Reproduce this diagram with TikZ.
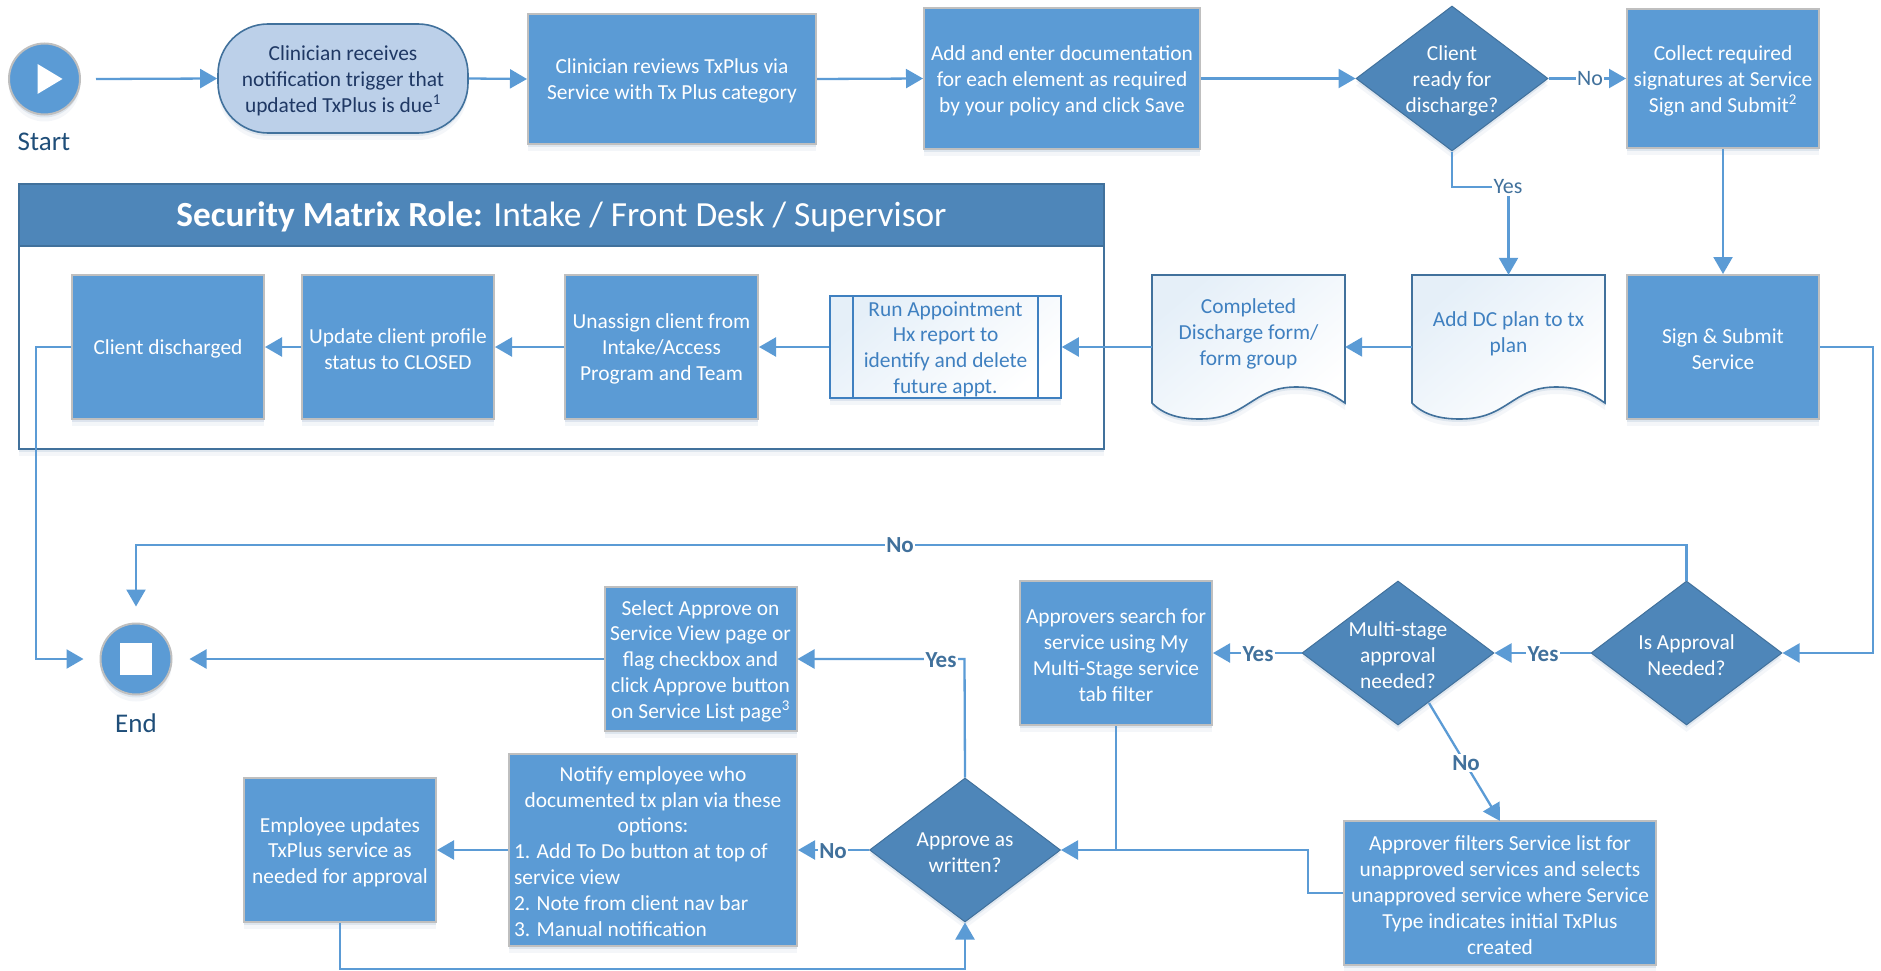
\documentclass[tikz,border=0pt]{standalone}
\usepackage{fontspec}
\setmainfont{Carlito}
\usetikzlibrary{shadows,shapes.geometric,arrows.meta,calc,positioning}
\definecolor{cblue}{HTML}{5B9BD5}
\definecolor{cdark}{HTML}{4E86B9}
\definecolor{cedge}{HTML}{41719C}
\definecolor{cgray}{HTML}{BFBFBF}
\definecolor{clight}{HTML}{BCD0E9}
\definecolor{cdoc}{HTML}{3F80C0}
\definecolor{cnavy}{HTML}{1F4E79}
\definecolor{cterm}{HTML}{1F3864}
\definecolor{cshadow}{HTML}{6F8FB5}
\newcommand{\dn}{\rule{0pt}{19.2pt}}
\tikzset{
  softsh/.style={drop shadow={shadow xshift=0pt,shadow yshift=-3pt,opacity=.16,fill=cshadow},
                 drop shadow={shadow xshift=0pt,shadow yshift=-7pt,opacity=.08,fill=cshadow}},
  body/.style={font=\fontsize{21.4}{25.8}\selectfont,align=center,inner sep=0pt},
  bx/.style 2 args={body,softsh,rectangle,draw=cgray,line width=2pt,fill=cblue,text=white,minimum width=#1,minimum height=#2},
  dec/.style 2 args={body,softsh,diamond,inner sep=-32pt,draw=cedge,line width=1pt,fill=cdark,text=white,minimum width=#1,minimum height=#2},
  circ/.style={circle,softsh,draw=cgray,line width=2pt,fill=cblue,minimum size=71pt,inner sep=0pt},
  termbox/.style={body,softsh,rectangle,rounded corners=50pt,draw=cedge,line width=1.6pt,fill=clight,text=cterm,minimum width=250pt,minimum height=109pt},
  conn/.style={draw=cblue,line width=2.3pt,-{Triangle[length=17pt,width=19pt]}},
  plainline/.style={draw=cblue,line width=2.3pt},
  lbl/.style={font=\fontsize{22}{26}\selectfont,fill=white,text=cedge,inner sep=1.5pt},
  lblb/.style={lbl,font=\fontsize{23}{26}\selectfont\bfseries},
  caplbl/.style={font=\fontsize{27}{30}\selectfont,text=cnavy,inner sep=0pt},
  docn/.style={rectangle,minimum width=193pt,minimum height=144pt,inner sep=0pt},
  doct/.style={body,text=cdoc},
  docshape/.style={draw=cedge,line width=1.6pt,top color=cblue!16,bottom color=white,shading angle=40,softsh},
}
\newcommand{\docpath}[1]{%
  \begin{scope}[shift={(#1,275)}]
    \path[docshape] (0,0) -- (193,0) -- (193,128)
      .. controls (180,119) and (168,112) .. (144,112)
      .. controls (100,112) and (96,144) .. (48,144)
      .. controls (28,144) and (12,140) .. (0,128) -- cycle;
  \end{scope}}
\begin{document}
\begin{tikzpicture}[x=1pt,y=-1pt]
\useasboundingbox (0,0) rectangle (1881,971);

% swimlane
\node[rectangle,softsh,draw=cedge,line width=2.4pt,fill=white,minimum width=1085pt,minimum height=265pt,inner sep=0pt] (lane) at (561.5,316.5) {};
\node[rectangle,draw=cedge,line width=2.4pt,fill=cdark,minimum width=1085pt,minimum height=62pt,inner sep=0pt,text=white,font=\fontsize{35.3}{40}\selectfont] (head) at (561.5,215) {\rule{0pt}{29pt}\textbf{Security Matrix Role:} Intake / Front Desk / Supervisor};

% top row
\node[circ] (start) at (44.5,79) {};
\fill[white] ($(start.center)+(-7,-15)$) -- ($(start.center)+(18,0)$) -- ($(start.center)+(-7,15)$) -- cycle;
\node[caplbl] (startl) at (44,142) {Start};
\node[termbox] (notif) at (343,78.5) {\dn Clinician receives\\notification trigger that\\updated TxPlus is due\textsuperscript{1}};
\node[bx={288pt}{130pt}] (review) at (672,79) {\dn Clinician reviews TxPlus via\\Service with Tx Plus category};
\node[bx={276pt}{141pt}] (docu) at (1062,78.5) {\dn Add and enter documentation\\for each element as required\\by your policy and click Save};
\node[dec={192pt}{145pt}] (ready) at (1452,78.5) {\dn Client\\ready for\\discharge?};
\node[bx={192pt}{139pt}] (sigs) at (1723,78.5) {\dn Collect required\\signatures at Service\\Sign and Submit\textsuperscript{2}};

% second row
\node[bx={192pt}{144pt}] (disch) at (168,347) {\rule{0pt}{19pt}Client discharged};
\node[bx={192pt}{144pt}] (status) at (398,347) {\dn Update client profile\\status to CLOSED};
\node[bx={193pt}{144pt}] (unassign) at (661.5,347) {\dn Unassign client from\\Intake/Access\\Program and Team};
\node[rectangle,softsh,draw=cdoc,line width=1.6pt,top color=cblue!16,bottom color=white,shading angle=40,minimum width=231pt,minimum height=102pt,inner sep=0pt] (run) at (945.5,347) {};
\draw[draw=cdoc,line width=1.6pt] ($(run.north west)+(24,0)$) -- ($(run.south west)+(24,0)$);
\draw[draw=cdoc,line width=1.6pt] ($(run.north east)+(-24,0)$) -- ($(run.south east)+(-24,0)$);
\node[doct] (runt) at (run.center) {\dn Run Appointment\\Hx report to\\identify and delete\\future appt.};
\docpath{1152}
\node[docn] (form) at (1248.5,347) {};
\node[doct] (formt) at ([yshift=15pt]form.center) {\dn Completed\\Discharge form/\\form group};
\docpath{1412}
\node[docn] (dcplan) at (1508.5,347) {};
\node[doct] (dcplant) at ([yshift=15pt]dcplan.center) {\dn Add DC plan to tx\\plan};
\node[bx={192pt}{144pt}] (sign) at (1723,347) {\dn Sign \& Submit\\Service};

% lower part
\node[circ] (endn) at (136,659) {};
\fill[white] ($(endn.center)+(-16,-16)$) rectangle ($(endn.center)+(16,16)$);
\node[caplbl] (endl) at (136,723) {End};
\node[bx={192pt}{144pt}] (select) at (700.5,659) {\dn Select Approve on\\Service View page or\\flag checkbox and\\click Approve button\\on Service List page\textsuperscript{3}};
\node[bx={288pt}{192pt}] (notify) at (653,850) {\begin{tabular}{@{}p{278pt}@{}}\multicolumn{1}{@{}c@{}}{\rule{0pt}{25pt}Notify employee who}\\\multicolumn{1}{@{}c@{}}{documented tx plan via these}\\\multicolumn{1}{@{}c@{}}{options:}\\1. Add To Do button at top of\\service view\\2. Note from client nav bar\\3. Manual notification\end{tabular}};
\node[bx={192pt}{144pt}] (employee) at (340,850) {\dn Employee updates\\TxPlus service as\\needed for approval};
\node[dec={191pt}{144pt}] (approve) at (965,850) {\dn Approve as\\written?};
\node[bx={192pt}{144pt}] (search) at (1116,653) {\dn Approvers search for\\service using My\\Multi-Stage service\\tab filter};
\node[dec={192pt}{144pt}] (multi) at (1398,653) {\dn Multi-stage\\approval\\needed?};
\node[dec={191pt}{144pt}] (isapp) at (1686.5,653) {\dn Is Approval\\Needed?};
\node[bx={312pt}{144pt}] (filters) at (1500,893) {\dn Approver filters Service list for\\unapproved services and selects\\unapproved service where Service\\Type indicates initial TxPlus\\created};

% connectors top
\draw[conn] ([xshift=15pt]start.east) -- (notif.west);
\draw[conn] (notif.east) -- (review.west);
\draw[conn] (review.east) -- (docu.west);
\draw[conn] (docu.east) -- (ready.west);
\draw[conn] (ready.east) -- (sigs.west);
\node[lbl] (lno1) at (1590,79) {No};
\coordinate (ycorner) at (1508.5,187);
\draw[conn] (ready.south) |- (ycorner) -- (dcplan.north);
\node[lbl] (lyes1) at (1508,187) {Yes};
\draw[conn] (sigs.south) -- (sign.north);
% row 2
\draw[conn] (dcplan.west) -- (form.east);
\draw[conn] (form.west) -- (run.east);
\draw[conn] (run.west) -- (unassign.east);
\draw[conn] (unassign.west) -- (status.east);
\draw[conn] (status.west) -- (disch.east);
\coordinate (dl) at (36,347);
\draw[conn] (disch.west) -- (dl) |- ([xshift=-16pt]endn.west);
% sign to approval
\coordinate (sr) at (1873,347);
\draw[conn] (sign.east) -- (sr) |- (isapp.east);
% no line
\coordinate (notop) at (1686.5,545);
\coordinate (noleft) at (136,545);
\draw[conn] (isapp.north) -- (notop) -- (noleft) -- ([yshift=16pt]endn.north);
\node[lblb] (lno2) at (900,545) {No};
\draw[conn] (isapp.west) -- (multi.east);
\node[lblb] (lyes2) at (1543,654) {Yes};
\draw[conn] (multi.west) -- (search.east);
\node[lblb] (lyes3) at (1258,654) {Yes};
\coordinate (mstart) at (1429,703);
\coordinate (mend) at (1500,821);
\draw[conn] (mstart) -- (mend);
\node[lblb] (lno3) at (1466,763) {No};
\coordinate (join) at (1116,850);
\draw[plainline] (search.south) -- (join);
\coordinate (fb) at (1308,893);
\draw[conn] (filters.west) -- (fb) |- (approve.east);
\coordinate (ayes) at (964.5,659);
\draw[conn] (approve.north) -- (ayes) -- (select.east);
\node[lblb] (lyes4) at (941,660) {Yes};
\draw[conn] (approve.west) -- (notify.east);
\node[lblb] (lno4) at (833,851) {No};
\draw[conn] (notify.west) -- (employee.east);
\coordinate (bot) at (340,969);
\coordinate (botr) at (965,969);
\draw[conn] (employee.south) -- (bot) -- (botr) -- (approve.south);
\draw[conn] (select.west) -- ([xshift=17pt]endn.east);
\end{tikzpicture}
\end{document}
